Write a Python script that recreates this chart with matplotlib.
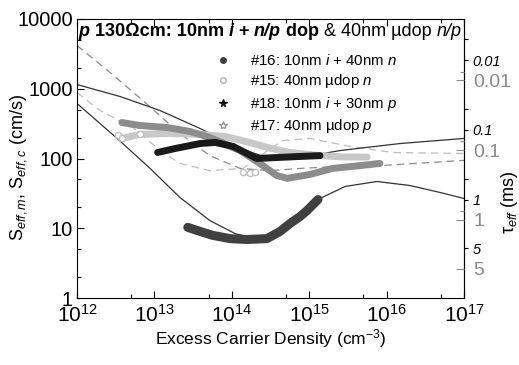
import numpy as np
import matplotlib.pyplot as plt
from matplotlib.ticker import FixedLocator, NullFormatter

plt.rcParams['font.family'] = ['Liberation Sans', 'DejaVu Sans']
plt.rcParams['mathtext.fontset'] = 'custom'
plt.rcParams['mathtext.rm'] = 'Liberation Sans'
plt.rcParams['mathtext.it'] = 'Liberation Sans:italic'
plt.rcParams['mathtext.bf'] = 'Liberation Sans:bold'

# ------------------------------------------------------------------
# measured data (excess carrier density cm^-3, S_eff cm/s)
# ------------------------------------------------------------------
n16 = [2.7e13, 3.9e13, 5.7e13, 9.5e13, 1.57e14, 2.85e14, 4.2e14, 5.65e14, 7.6e14, 9.4e14, 1.3e15]
s16 = [10.3, 9.0, 7.9, 7.1, 6.9, 7.1, 9.0, 11.7, 14.7, 18.0, 25.8]

n15 = [3.4e12, 3.8e12, 6.5e12, 1.58e13, 3.9e13, 8.2e13, 1.7e14, 3.1e14, 5.6e14, 1.38e15, 2.9e15, 5.6e15]
s15 = [214, 194, 222, 228, 222, 207, 170, 141, 122, 110, 105, 105]
n15_low = [1.4e14, 1.7e14, 2.0e14]
s15_low = [64, 62, 63]

n18 = [1.1e13, 1.85e13, 3.9e13, 6.1e13, 1.04e14, 1.48e14, 2.1e14, 3.6e14, 7.6e14, 1.38e15]
s18 = [122, 139, 164, 170, 149, 122, 100, 103, 107, 110]

n17 = [3.8e12, 6.5e12, 1.46e13, 2.9e13, 5.2e13, 1.28e14, 2.3e14, 3.8e14, 5.2e14, 1.02e15, 2.0e15, 4.5e15, 8.2e15]
s17 = [328, 297, 278, 244, 200, 130, 85, 57, 52, 59, 72, 79, 85]

# simulated curves
n_sim1 = [1e12, 3.6e12, 1.18e13, 3.9e13, 1.28e14, 3.1e14, 7.6e14, 2.5e15, 1.5e16, 1e17]
s_sim1 = [1150, 774, 488, 269, 139, 100, 103, 130, 164, 194]

n_sim2 = [1e12, 3.3e12, 8.8e12, 2.14e13, 5.2e13, 1.1e14, 2.1e14, 4.2e14, 7.6e14, 1.38e15, 2.9e15, 7.5e15, 2.0e16, 4.9e16, 1e17]
s_sim2 = [615, 194, 72, 27.6, 12.9, 8.4, 7.0, 8.6, 15.2, 26.7, 39.7, 46.8, 41, 32.6, 26.7]

n_sim3 = [1e12, 2.67e12, 7.1e12, 2.14e13, 5.2e13, 1.28e14, 3.1e14, 7.6e14, 2.5e15, 8.2e15, 1e17]
s_sim3 = [4170, 1710, 679, 228, 110, 72, 67, 72, 77, 79, 94]

n_sim4 = [1e12, 1.98e12, 5.3e12, 1.18e13, 2.14e13, 5.2e13, 1.4e14, 2.7e14, 4.6e14, 1.02e15, 3.4e15, 1.2e16, 1e17]
s_sim4 = [884, 488, 278, 130, 85, 67, 72, 122, 181, 194, 149, 122, 118]

# lifetime axes (ms)
tau_major = [0.01, 0.1, 1, 5]
tau_labels = ['0.01', '0.1', '1', '5']
tau_minor = [0.005, 0.05, 0.5]
C_black = 25.7   # S = C / tau
C_grey = 13.2

fig = plt.figure(figsize=(5.19, 3.65), dpi=100)
ax = fig.add_axes([77/519, 1-298/365, (464-77)/519, (298-19)/365])

ax.plot(n_sim4, s_sim4, color='#bdbdbd', lw=0.9, dashes=(6, 4))
ax.plot(n_sim3, s_sim3, color='#8a8a8a', lw=0.9, dashes=(6, 4))
ax.plot(n_sim1, s_sim1, color='#333333', lw=0.9)
ax.plot(n_sim2, s_sim2, color='#333333', lw=0.9)

ax.plot(n15, s15, '-', color='#c8c8c8', lw=5, solid_capstyle='round')
ax.plot(n15[:3], s15[:3], 'o', mfc='white', mec='#c0c0c0', ms=4.5, mew=1)
ax.plot(n15_low, s15_low, 'o', mfc='white', mec='#c0c0c0', ms=4.5, mew=1)
ax.plot(n17, s17, '-', color='#8c8c8c', lw=5, solid_capstyle='round')
ax.plot(n18, s18, '-', color='#1a1a1a', lw=5, solid_capstyle='round')
ax.plot(n16, s16, '-', color='#404040', lw=6.5, solid_capstyle='round')

ax.set_xscale('log')
ax.set_yscale('log')
ax.set_xlim(1e12, 1e17)
ax.set_ylim(1, 10000)
ax.set_xticks([1e12, 1e13, 1e14, 1e15, 1e16, 1e17])
ax.set_xticklabels([r'$10^{%d}$' % e for e in range(12, 18)], fontsize=15)
ax.xaxis.set_minor_locator(FixedLocator([5 * 10.0**e for e in range(12, 17)]))
ax.xaxis.set_minor_formatter(NullFormatter())
ax.set_yticks([1, 10, 100, 1000, 10000])
ax.set_yticklabels(['1', '10', '100', '1000', '10000'], fontsize=14.5)
ax.yaxis.set_minor_locator(FixedLocator([m * 10.0**e for e in range(0, 4) for m in (2, 5)]))
ax.yaxis.set_minor_formatter(NullFormatter())
ax.tick_params(which='both', direction='in', top=True, right=False)
ax.tick_params(which='major', length=5, width=0.8)
ax.tick_params(which='minor', length=3, width=0.8)
ax.tick_params(axis='x', pad=4)
ax.tick_params(axis='y', pad=3)

ax.set_xlabel('Excess Carrier Density (cm$^{-3}$)', fontsize=12.5, labelpad=1)
ax.set_ylabel('S$_{eff,m}$, S$_{eff,c}$ (cm/s)', fontsize=13)
ax.yaxis.set_label_coords(-0.125, 0.47)

# right axis: black tau ticks
ax2 = ax.twinx()
ax2.set_yscale('log')
ax2.set_ylim(1, 10000)
ax2.yaxis.set_major_locator(FixedLocator([C_black / t for t in tau_major]))
ax2.set_yticklabels(tau_labels, fontsize=10.5, style='italic')
ax2.yaxis.set_minor_locator(FixedLocator([C_black / t for t in tau_minor]))
ax2.yaxis.set_minor_formatter(NullFormatter())
ax2.tick_params(which='both', direction='out', length=3, width=0.8, pad=3)
for side in ['left', 'top', 'bottom']:
    ax2.spines[side].set_visible(False)

# right axis: grey tau ticks
ax3 = ax.twinx()
ax3.set_yscale('log')
ax3.set_ylim(1, 10000)
ax3.yaxis.set_major_locator(FixedLocator([C_grey / t for t in tau_major]))
ax3.set_yticklabels(tau_labels, fontsize=14, color='#8a8a8a')
ax3.yaxis.set_minor_locator(FixedLocator([C_grey / t / 0.75 for t in tau_major[:3]]))
ax3.yaxis.set_minor_formatter(NullFormatter())
ax3.tick_params(which='major', direction='in', length=6, width=0.8, color='#8a8a8a', pad=7)
ax3.tick_params(which='minor', direction='in', length=3, width=0.8, color='#8a8a8a')
for side in ['left', 'top', 'bottom', 'right']:
    ax3.spines[side].set_visible(False)

fig.text(509/519, 1-202/365, '\u03c4$_{\\it{eff}}$ (ms)', rotation=90, ha='center', va='center', fontsize=13)

# header text built from pieces
pieces = [('p', 'bold', 'italic'), (' 130\u03a9cm: 10nm ', 'bold', 'normal'), ('i', 'bold', 'italic'),
          (' + ', 'bold', 'normal'), ('n/p', 'bold', 'italic'), (' dop', 'bold', 'normal'),
          (' & 40nm \u00b5dop ', 'normal', 'normal'), ('n/p', 'normal', 'italic')]
prev = ax.text(0.004, 0.985, pieces[0][0], transform=ax.transAxes, fontsize=13,
               fontweight=pieces[0][1], style=pieces[0][2], va='top', ha='left')
for txt, w, st in pieces[1:]:
    prev = ax.annotate(txt, xy=(1, 0), xycoords=prev, fontsize=13, fontweight=w, style=st,
                       va='bottom', ha='left')

# legend
h16, = ax.plot([], [], 'o', color='#404040', ms=4)
h15, = ax.plot([], [], 'o', mfc='none', mec='#b0b0b0', ms=4)
h18, = ax.plot([], [], '*', color='#111111', ms=5.5)
h17, = ax.plot([], [], '*', mfc='none', mec='#9a9a9a', ms=6)
labels = ['#16: 10nm $\\it{i}$ + 40nm $\\it{n}$', '#15: 40nm \u00b5dop $\\it{n}$',
          '#18: 10nm $\\it{i}$ + 30nm $\\it{p}$', '#17: 40nm \u00b5dop $\\it{p}$']
ax.legend([h16, h15, h18, h17], labels, loc='upper left', bbox_to_anchor=(0.338, 0.90),
          frameon=False, fontsize=10.8, handlelength=1.2, handletextpad=1.2, labelspacing=0.3,
          borderaxespad=0)

fig.savefig('out.png', dpi=100)
